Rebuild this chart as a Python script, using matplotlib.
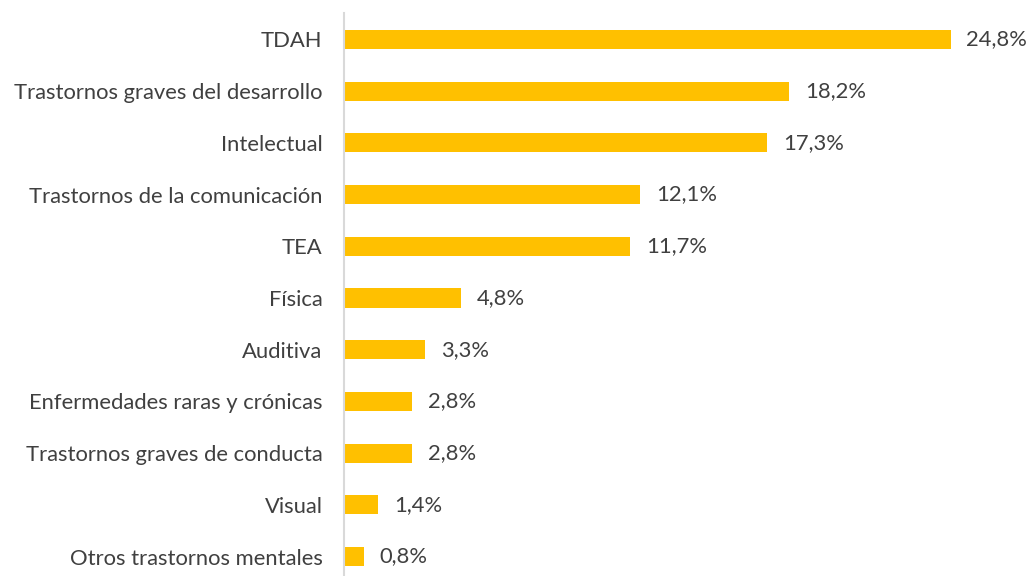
import matplotlib
matplotlib.use("Agg")
import matplotlib.pyplot as plt

categories = ["TDAH", "Trastornos graves del desarrollo", "Intelectual",
              "Trastornos de la comunicación", "TEA", "Física", "Auditiva",
              "Enfermedades raras y crónicas", "Trastornos graves de conducta",
              "Visual", "Otros trastornos mentales"]
values = [24.8, 18.2, 17.3, 12.1, 11.7, 4.8, 3.3, 2.8, 2.8, 1.4, 0.8]
value_labels = ["24,8%", "18,2%", "17,3%", "12,1%", "11,7%", "4,8%", "3,3%",
                "2,8%", "2,8%", "1,4%", "0,8%"]

plt.rcParams['font.family'] = ['Lato', 'DejaVu Sans']
text_color = "#404040"

fig = plt.figure(figsize=(10.30, 5.76), dpi=100)
ax = fig.add_axes([344/1030, 0, (1030-344)/1030, 563/576])

y = list(range(len(categories)))
ax.barh(y, values, height=0.37, color="#FFC000", zorder=2)
for yi, v, lab in zip(y, values, value_labels):
    ax.text(v + 0.65, yi, lab, va="center", ha="left", fontsize=15.8, color=text_color)

ax.set_xlim(0, 28.05)
ax.set_ylim(10.377, -0.51)
ax.set_yticks(y)
ax.set_yticklabels(categories, fontsize=15.8, color=text_color)
ax.tick_params(axis="y", length=0, pad=15.5)
ax.set_xticks([])
for s in ["top", "right", "bottom"]:
    ax.spines[s].set_visible(False)
ax.spines["left"].set_color("#d9d9d9")
ax.spines["left"].set_linewidth(1.5)

fig.savefig("out.png", dpi=100)
